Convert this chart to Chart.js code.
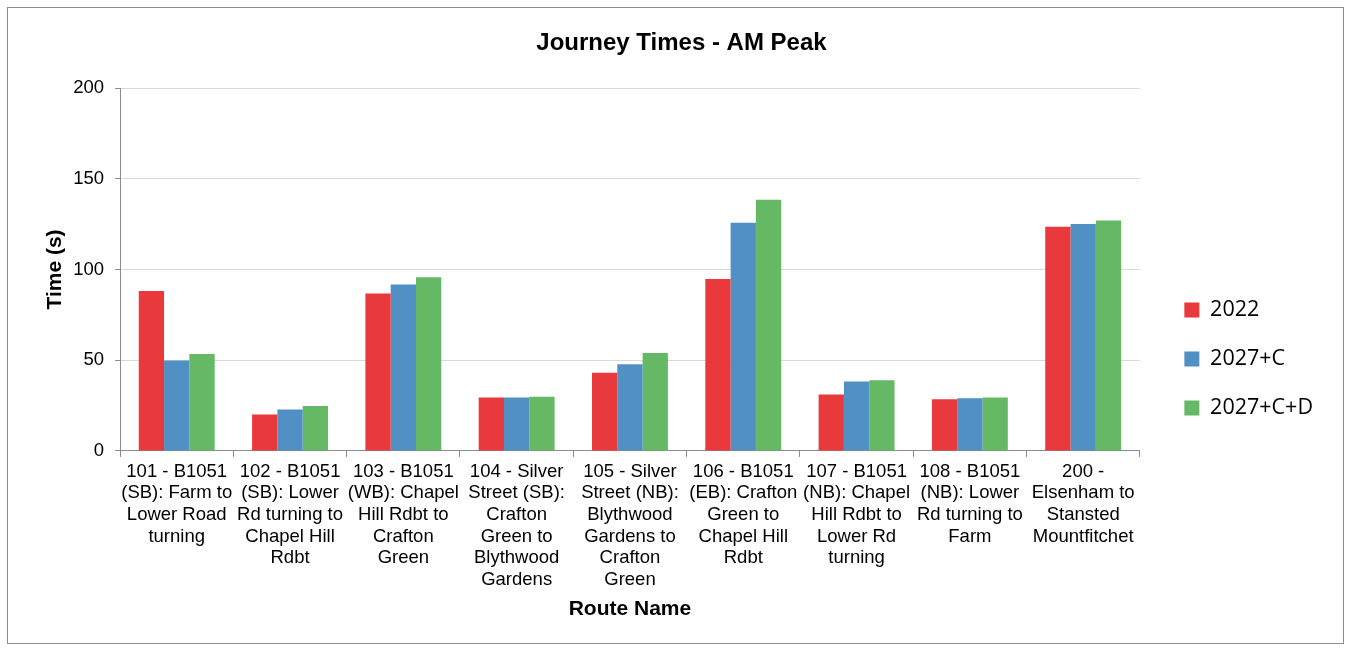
<!DOCTYPE html>
<html>
<head>
<meta charset="utf-8">
<script src="https://cdn.jsdelivr.net/npm/chart.js@4/dist/chart.umd.min.js"></script>
<style>
  body { margin: 0; background: #fff; }
  #frame { position: absolute; left: 7px; top: 7px; width: 1335px; height: 635px; border: 1px solid #8c8c8c; }
</style>
</head>
<body>
<div id="frame"><canvas id="grafico"></canvas></div>
<script>
// Rotas (eixo X)
const rotas = [
  ['101 - B1051', '(SB): Farm to', 'Lower Road', 'turning'],
  ['102 - B1051', '(SB): Lower', 'Rd turning to', 'Chapel Hill', 'Rdbt'],
  ['103 - B1051', '(WB): Chapel', 'Hill Rdbt to', 'Crafton', 'Green'],
  ['104 - Silver', 'Street (SB):', 'Crafton', 'Green to', 'Blythwood', 'Gardens'],
  ['105 - Silver', 'Street (NB):', 'Blythwood', 'Gardens to', 'Crafton', 'Green'],
  ['106 - B1051', '(EB): Crafton', 'Green to', 'Chapel Hill', 'Rdbt'],
  ['107 - B1051', '(NB): Chapel', 'Hill Rdbt to', 'Lower Rd', 'turning'],
  ['108 - B1051', '(NB): Lower', 'Rd turning to', 'Farm'],
  ['200 -', 'Elsenham to', 'Stansted', 'Mountfitchet']
];

// Tempos (s)
const tempos2022 = [88.2, 20.1, 86.7, 29.4, 43.1, 94.8, 31.1, 28.5, 123.5];
const tempos2027C = [49.8, 22.8, 91.7, 29.4, 47.7, 125.7, 38.3, 29.0, 125.0];
const tempos2027CD = [53.4, 24.7, 95.7, 29.8, 53.9, 138.4, 38.9, 29.4, 127.0];

const fonte = "'Liberation Sans', Arial, sans-serif";

new Chart(document.getElementById('grafico'), {
  type: 'bar',
  data: {
    labels: rotas,
    datasets: [
      { label: '2022', data: tempos2022, backgroundColor: '#e83a3d' },
      { label: '2027+C', data: tempos2027C, backgroundColor: '#5190c4' },
      { label: '2027+C+D', data: tempos2027CD, backgroundColor: '#65b964' }
    ]
  },
  options: {
    responsive: true,
    maintainAspectRatio: false,
    animation: false,
    datasets: { bar: { categoryPercentage: 0.67, barPercentage: 1.0 } },
    layout: { padding: { left: 32, right: 20, top: 0, bottom: 19 } },
    plugins: {
      title: {
        display: true,
        text: 'Journey Times - AM Peak',
        color: '#000',
        font: { family: fonte, size: 24, weight: 'bold' },
        padding: { top: 20.6, bottom: 30.6 }
      },
      legend: {
        position: 'right',
        title: { display: true, text: ' ', font: { size: 1, lineHeight: 1 }, padding: { top: 0, bottom: 85 } },
        labels: {
          color: '#000',
          font: { family: "'Open Sans', sans-serif", size: 21.5 },
          boxWidth: 15,
          boxHeight: 15,
          padding: 27.5
        }
      },
      tooltip: { enabled: false }
    },
    scales: {
      x: {
        grid: { drawOnChartArea: false, drawTicks: true, tickLength: 6, color: '#8c8c8c' },
        border: { color: '#8c8c8c' },
        ticks: {
          color: '#000',
          autoSkip: false,
          maxRotation: 0,
          font: { family: fonte, size: 18.5, lineHeight: 1.17 },
          padding: 4
        },
        title: {
          display: true,
          text: 'Route Name',
          color: '#000',
          font: { family: fonte, size: 21, weight: 'bold' },
          padding: { top: 2, bottom: 2 }
        }
      },
      y: {
        min: 0,
        max: 200,
        ticks: {
          stepSize: 50,
          color: '#000',
          font: { family: fonte, size: 18.5 },
          padding: 11
        },
        grid: { color: '#d9d9d9', tickColor: '#8c8c8c', tickLength: 5 },
        border: { color: '#8c8c8c' },
        title: {
          display: true,
          text: 'Time (s)',
          color: '#000',
          font: { family: fonte, size: 21, weight: 'bold' },
          padding: { top: 3, bottom: 5 }
        },
        // o Chart.js conta o padding dos ticks duas vezes
        afterFit: (scale) => { scale.width -= 11; }
      },
      // eixo vazio só para afastar a legenda do gráfico
      espaco: {
        position: 'right',
        min: 0,
        max: 1,
        ticks: { display: false },
        grid: { display: false },
        border: { display: false },
        afterFit: (scale) => { scale.width = 17; }
      }
    }
  }
});
</script>
</body>
</html>
